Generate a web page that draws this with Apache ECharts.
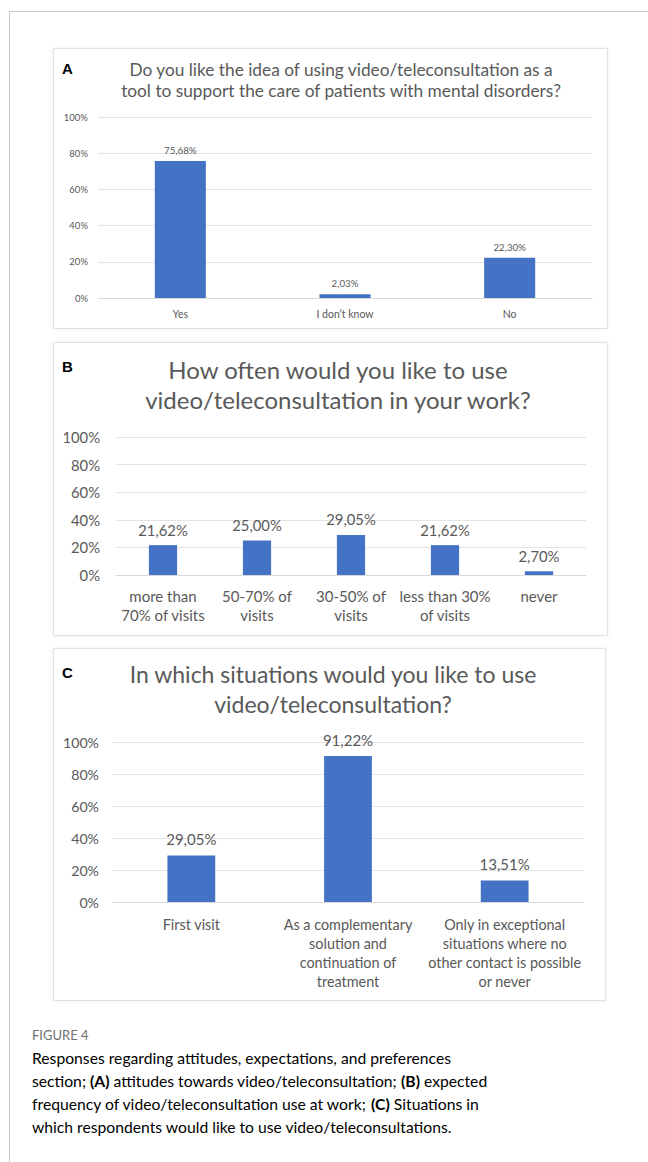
<!DOCTYPE html>
<html>
<head>
<meta charset="utf-8">
<script src="https://cdn.jsdelivr.net/npm/echarts@6/dist/echarts.min.js"></script>
<style>
  html, body { margin: 0; padding: 0; background: #fff; }
  #fig { width: 648px; height: 1162px; }
</style>
</head>
<body>
<div id="fig"></div>
<script>
// Panel A: attitude towards video/teleconsultation
const categoriesA = ['Yes', 'I don’t know', 'No'];
const valuesA = [75.68, 2.03, 22.30];

// Panel B: expected frequency of use
const categoriesB = ['more than\n70% of visits', '50-70% of\nvisits', '30-50% of\nvisits', 'less than 30%\nof visits', 'never'];
const valuesB = [21.62, 25.00, 29.05, 21.62, 2.70];

// Panel C: situations of use
const categoriesC = ['First visit', 'As a complementary\nsolution and\ncontinuation of\ntreatment', 'Only in exceptional\nsituations where no\nother contact is possible\nor never'];
const valuesC = [29.05, 91.22, 13.51];

const yTicks = [0, 20, 40, 60, 80, 100];

const titleA = 'Do you like the idea of using video/teleconsultation as a\ntool to support the care of patients with mental disorders?';
const titleB = 'How often would you like to use\nvideo/teleconsultation in your work?';
const titleC = 'In which situations would you like to use\nvideo/teleconsultation?';

const captionHead = 'FIGURE 4';
const captionLines = [
  [['n', 'Responses regarding attitudes, expectations, and preferences']],
  [['n', 'section; '], ['b', '(A)'], ['n', ' attitudes towards video/teleconsultation; '], ['b', '(B)'], ['n', ' expected']],
  [['n', 'frequency of video/teleconsultation use at work; '], ['b', '(C)'], ['n', ' Situations in']],
  [['n', 'which respondents would like to use video/teleconsultations.']]
];

const BLUE = '#4472C4';
const INK = '#595959';
const chartFont = 'Lato';
const pct = v => v.toFixed(2).replace('.', ',') + '%';

const chart = echarts.init(document.getElementById('fig'), null, { renderer: 'svg' });

function yAxis(gridIndex, fontSize, margin) {
  return {
    type: 'value', gridIndex, min: yTicks[0], max: yTicks[yTicks.length - 1], interval: 20,
    axisLine: { show: false }, axisTick: { show: false },
    splitLine: { lineStyle: { color: '#e3e3e3', width: 1 } },
    axisLabel: { formatter: '{value}%', color: INK, fontSize, fontFamily: chartFont, margin }
  };
}
function xAxis(gridIndex, data, fontSize, lineHeight, margin) {
  return {
    type: 'category', gridIndex, data,
    axisTick: { show: false },
    axisLine: { lineStyle: { color: '#d9d9d9' } },
    axisLabel: { color: INK, fontSize, lineHeight, fontFamily: chartFont, margin, interval: 0 }
  };
}
function bars(i, data, barWidth, fontSize, distance) {
  return {
    type: 'bar', xAxisIndex: i, yAxisIndex: i, data, barWidth,
    itemStyle: { color: BLUE },
    label: { show: true, position: 'top', distance, formatter: p => pct(p.value), color: INK, fontSize, fontFamily: chartFont }
  };
}
function panelBox(x, y, w, h) {
  return {
    type: 'rect', shape: { x: x + 0.5, y: y + 0.5, width: w, height: h }, z: -10,
    style: { fill: '#fff', stroke: '#e2e2e2', lineWidth: 1, shadowBlur: 3, shadowColor: 'rgba(0,0,0,0.08)' }
  };
}
function letter(t, x, y) {
  return { type: 'text', x, y, style: { text: t, font: 'bold 15px "Liberation Sans", Arial', fill: '#000', textVerticalAlign: 'middle' } };
}

const graphics = [
  // outer frame (top and left rules)
  { type: 'line', shape: { x1: 9.5, y1: 11.5, x2: 648, y2: 11.5 }, style: { stroke: '#c8c8c8', lineWidth: 1 } },
  { type: 'line', shape: { x1: 9.5, y1: 11.5, x2: 9.5, y2: 1162 }, style: { stroke: '#c8c8c8', lineWidth: 1 } },
  panelBox(53, 48, 554, 280),
  panelBox(53, 342, 554, 293),
  panelBox(53, 648, 552, 352),
  letter('A', 62, 68),
  letter('B', 62, 366),
  letter('C', 62, 672),
  { type: 'text', x: 32, y: 1035, style: { text: captionHead, font: '13px Lato', fill: '#707070', textVerticalAlign: 'middle' } }
];
captionLines.forEach((line, i) => {
  graphics.push({
    type: 'text', x: 32, y: 1058 + i * 23,
    style: {
      text: line.map(([k, s]) => '{' + k + '|' + s + '}').join(''),
      textVerticalAlign: 'middle',
      rich: {
        n: { fontFamily: 'Lato', fontSize: 15.7, color: '#777777' },
        b: { fontFamily: 'Lato', fontSize: 15.7, fontWeight: 'bold', color: '#5a5a5a' }
      }
    }
  });
});

chart.setOption({
  animation: false,
  title: [
    { text: titleA, left: 336, top: 54, textAlign: 'center',
      textStyle: { color: INK, fontSize: 17.3, lineHeight: 21, fontWeight: 'normal', fontFamily: chartFont } },
    { text: titleB, left: 333, top: 349, textAlign: 'center',
      textStyle: { color: INK, fontSize: 24, lineHeight: 30, fontWeight: 'normal', fontFamily: chartFont } },
    { text: titleC, left: 328, top: 654, textAlign: 'center',
      textStyle: { color: INK, fontSize: 23, lineHeight: 30, fontWeight: 'normal', fontFamily: chartFont } }
  ],
  grid: [
    { left: 98, top: 117, width: 494, height: 181 },
    { left: 116, top: 437, width: 470, height: 138 },
    { left: 113, top: 742, width: 470, height: 160 }
  ],
  xAxis: [
    xAxis(0, categoriesA, 10.5, 13, 9),
    xAxis(1, categoriesB, 15, 19, 11),
    xAxis(2, categoriesC, 14.4, 19, 13)
  ],
  yAxis: [
    yAxis(0, 9.5, 10),
    yAxis(1, 14.8, 16),
    yAxis(2, 14.2, 14)
  ],
  series: [
    bars(0, valuesA, '31%', 9.7, 6),
    bars(1, valuesB, '30%', 14.8, 8),
    bars(2, valuesC, '30.5%', 15, 9)
  ],
  graphic: graphics
});
</script>
</body>
</html>
